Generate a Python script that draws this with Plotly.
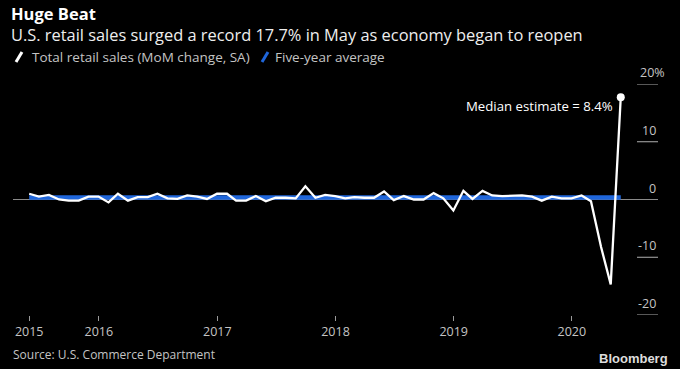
import plotly.graph_objects as go
import pandas as pd

# ---- data ----
months = pd.date_range("2015-05-31", periods=61, freq="ME")
retail_mom = [
    1.0, 0.5, 0.8, 0.0, -0.2, -0.2, 0.5, 0.5,          # May-Dec 2015
    -0.5, 1.0, -0.2, 0.4, 0.4, 1.0, 0.2, 0.1, 0.7, 0.5, 0.1, 1.0,   # 2016
    1.0, -0.2, -0.2, 0.6, -0.3, 0.3, 0.3, 0.2, 2.3, 0.3, 0.8, 0.6,  # 2017
    0.2, 0.4, 0.3, 0.3, 1.4, -0.1, 0.6, 0.0, 0.0, 1.1, 0.2, -1.9,   # 2018
    1.5, 0.1, 1.5, 0.7, 0.6, 0.6, 0.7, 0.5, -0.2, 0.5, 0.2, 0.2,    # 2019
    0.7, -0.3, -8.2, -14.7, 17.7,                       # Jan-May 2020
]
five_year_avg = 0.35
avg_line = [five_year_avg] * len(months)

x_tick_vals = ["2015-05-31", "2016-01-01", "2017-01-01", "2018-01-01", "2019-01-01", "2020-01-01"]
x_tick_text = ["2015", "2016", "2017", "2018", "2019", "2020"]
y_tick_vals = [20, 10, 0, -10, -20]
y_tick_text = ["20%", "10", "0", "-10", "-20"]

title = "Huge Beat"
subtitle = "U.S. retail sales surged a record 17.7% in May as economy began to reopen"
legend_names = ["Total retail sales (MoM change, SA)", "Five-year average"]
note = "Median estimate = 8.4%"
source = "Source: U.S. Commerce Department"

# ---- layout geometry (page body margin is removed below) ----
W, H = 680, 369
PX0, PX1, PY0, PY1 = 13, 658, 84, 315          # plot box in screen pixels
L, T = PX0, PY0
R, B = W - PX1, H - PY1
PW, PH = PX1 - PX0, PY1 - PY0

def px(x):
    return (x - PX0) / PW

def py(y):
    return (PY1 - y) / PH

FONT = "Open Sans"
BLUE = "#1f66db"
GRAY = "#c4c4c4"

fig = go.Figure()
fig.add_trace(go.Scatter(x=months, y=avg_line, mode="lines",
                         line=dict(color=BLUE, width=4.5), name=legend_names[1],
                         hoverinfo="skip"))
fig.add_trace(go.Scatter(x=months, y=retail_mom, mode="lines",
                         line=dict(color="white", width=2.3), name=legend_names[0]))
fig.add_trace(go.Scatter(x=[months[-1]], y=[retail_mom[-1]], mode="markers",
                         marker=dict(color="white", size=8), showlegend=False))

shapes = []
for v in y_tick_vals:
    x0 = 0 if v == 0 else px(637)
    shapes.append(dict(type="line", xref="paper", yref="y", x0=x0, x1=1, y0=v, y1=v,
                       line=dict(color="#8a8a8a" if v == 0 else "#b0b0b0", width=1), layer="below"))
shapes.append(dict(type="line", xref="paper", yref="paper", x0=px(16), x1=px(22),
                   y0=py(62), y1=py(52), line=dict(color="white", width=3)))
shapes.append(dict(type="line", xref="paper", yref="paper", x0=px(262), x1=px(268),
                   y0=py(62), y1=py(52), line=dict(color=BLUE, width=3)))

ann = []
for v, t in zip(y_tick_vals, y_tick_text):
    ann.append(dict(xref="paper", yref="y", x=1, y=v, text=t, showarrow=False,
                    xanchor="right", yanchor="bottom", yshift=1,
                    xshift=9 if t.endswith("%") else 0,
                    font=dict(family=FONT, size=12.5, color=GRAY)))
ann += [
    dict(xref="paper", yref="paper", x=px(10), y=py(13), text="<b>" + title + "</b>",
         showarrow=False, xanchor="left", yanchor="middle", borderpad=0,
         font=dict(family=FONT, size=16.5, color="white")),
    dict(xref="paper", yref="paper", x=px(10), y=py(34), text=subtitle,
         showarrow=False, xanchor="left", yanchor="middle", borderpad=0,
         font=dict(family=FONT, size=16.4, color="#eeeeee")),
    dict(xref="paper", yref="paper", x=px(30), y=py(57), text=legend_names[0],
         showarrow=False, xanchor="left", yanchor="middle",
         font=dict(family=FONT, size=13.5, color=GRAY)),
    dict(xref="paper", yref="paper", x=px(273), y=py(57), text=legend_names[1],
         showarrow=False, xanchor="left", yanchor="middle",
         font=dict(family=FONT, size=13.5, color=GRAY)),
    dict(xref="x", yref="y", x=months[-1], y=retail_mom[-1], text=note,
         showarrow=False, xanchor="right", yanchor="middle", xshift=-6, yshift=-9,
         font=dict(family=FONT, size=13.2, color="white")),
    dict(xref="paper", yref="paper", x=px(11), y=py(354), text=source,
         showarrow=False, xanchor="left", yanchor="middle",
         font=dict(family=FONT, size=12, color=GRAY)),
    dict(xref="paper", yref="paper", x=px(670), y=py(358), text="<b>Bloomberg</b>",
         showarrow=False, xanchor="right", yanchor="middle",
         font=dict(family="Liberation Sans", size=13, color="#dddddd")),
]

fig.update_layout(
    width=W, height=H,
    margin=dict(l=L, r=R, t=T, b=B),
    paper_bgcolor="black", plot_bgcolor="black",
    showlegend=False, hovermode=False,
    shapes=shapes, annotations=ann,
    xaxis=dict(range=["2015-04-11", "2020-09-23"], type="date",
               tickvals=x_tick_vals, ticktext=x_tick_text,
               ticks="outside", ticklen=5, tickcolor="#9a9a9a", tickwidth=1,
               showgrid=False, zeroline=False, showline=False,
               tickfont=dict(family=FONT, size=12.5, color=GRAY)),
    yaxis=dict(range=[-20, 20], showticklabels=False, showgrid=False,
               zeroline=False, showline=False, ticks=""),
)

fig.write_html("out.html", config={"displayModeBar": False},
               post_script="document.body.style.margin='0px';")
